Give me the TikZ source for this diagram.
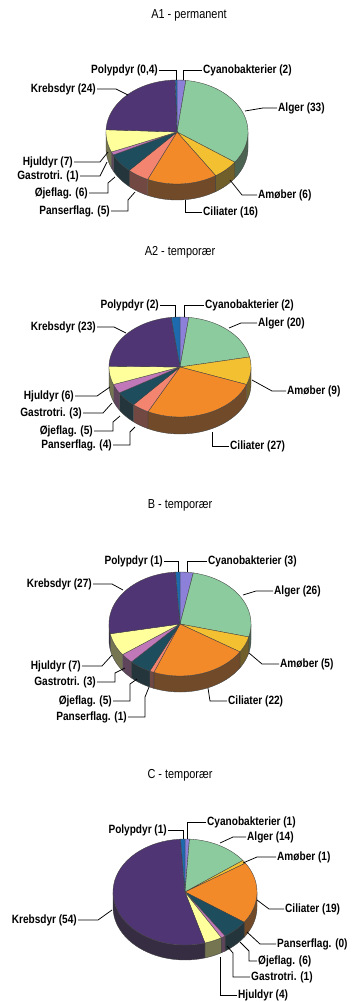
\documentclass[tikz,border=0pt]{standalone}
\usepackage{fontspec}
\setmainfont[FakeStretch=0.84]{Liberation Sans}
\definecolor{cCya}{HTML}{8C80D8}
\definecolor{cAlg}{HTML}{8CCB9E}
\definecolor{cAmo}{HTML}{F2C030}
\definecolor{cCil}{HTML}{F38A2A}
\definecolor{cPan}{HTML}{F28470}
\definecolor{cOje}{HTML}{1E4E5E}
\definecolor{cGas}{HTML}{C078B8}
\definecolor{cHju}{HTML}{FFFF9C}
\definecolor{cKre}{HTML}{4F3573}
\definecolor{cPol}{HTML}{1E6AAE}
\tikzset{
  lbl/.style={font=\bfseries\fontsize{12}{14}\selectfont, inner sep=1pt},
  ttl/.style={font=\fontsize{13}{15}\selectfont, inner sep=1pt},
  lead/.style={draw=black, line width=0.75pt},
  edge/.style={draw=black!75, line width=0.35pt}
}
\newcommand{\drawpie}[7]{%
  \def\pcx{#1}\def\pcy{#2}\def\prx{#3}\def\pry{#4}\def\pdp{#5}\def\ptot{#6}%
  \xdef\pcum{0}%
  \foreach \v/\c in {#7}{%
    \pgfmathsetmacro{\aA}{-90+360*(\pcum/\ptot)}%
    \pgfmathsetmacro{\aB}{-90+360*((\pcum+\v)/\ptot)}%
    \pgfmathsetmacro{\lo}{max(\aA,0)}%
    \pgfmathsetmacro{\hi}{min(\aB,180)}%
    \pgfmathtruncatemacro{\vis}{(\hi-\lo)>0.05 ? 1 : 0}%
    \ifnum\vis=1
      \filldraw[fill=\c!45!black!80!gray, edge]
        plot[variable=\t,domain=\lo:\hi,samples=30] ({\pcx+\prx*cos(\t)},{\pcy+\pry*sin(\t)})
        -- plot[variable=\t,domain=\hi:\lo,samples=30] ({\pcx+\prx*cos(\t)},{\pcy+\pdp+\pry*sin(\t)})
        -- cycle;
    \fi
    \pgfmathsetmacro{\pn}{\pcum+\v}%
    \xdef\pcum{\pn}%
  }%
  \xdef\pcum{0}%
  \foreach \v/\c in {#7}{%
    \pgfmathsetmacro{\aA}{-90+360*(\pcum/\ptot)}%
    \pgfmathsetmacro{\aB}{-90+360*((\pcum+\v)/\ptot)}%
    \filldraw[fill=\c, edge] (\pcx,\pcy)
      -- plot[variable=\t,domain=\aA:\aB,samples=40] ({\pcx+\prx*cos(\t)},{\pcy+\pry*sin(\t)})
      -- cycle;
    \pgfmathsetmacro{\pn}{\pcum+\v}%
    \xdef\pcum{\pn}%
  }%
}
\begin{document}
\begin{tikzpicture}[x=1pt,y=-1pt]
\useasboundingbox (0,0) rectangle (359,1002);
\fill[white] (0,0) rectangle (359,1002);

% ---------------- A1 ----------------
\node[ttl] (tA1) at (189,15) {A1 - permanent};
\drawpie{177}{132}{71}{52}{16}{100.4}{2/cCya,33/cAlg,6/cAmo,16/cCil,5/cPan,6/cOje,1/cGas,7/cHju,24/cKre,0.4/cPol}
\node[lbl, anchor=east] (a1pol) at (159,70) {Polypdyr (0,4)};
\node[lbl, anchor=west] (a1cya) at (202,70) {Cyanobakterier (2)};
\node[lbl, anchor=east] (a1kre) at (97,89) {Krebsdyr (24)};
\node[lbl, anchor=west] (a1alg) at (277,108) {Alger (33)};
\node[lbl, anchor=east] (a1hju) at (74,162) {Hjuldyr (7)};
\node[lbl, anchor=east] (a1gas) at (80,176) {Gastrotri. (1)};
\node[lbl, anchor=east] (a1oje) at (89,193) {Øjeflag. (6)};
\node[lbl, anchor=east] (a1pan) at (111,211) {Panserflag. (5)};
\node[lbl, anchor=west] (a1cil) at (202,212) {Ciliater (16)};
\node[lbl, anchor=west] (a1amo) at (257,195) {Amøber (6)};
\coordinate (pa1pol) at (176,80);
\coordinate (pa1cya) at (183,80);
\coordinate (pa1kre) at (128,95);
\coordinate (pa1alg) at (245,111);
\coordinate (pa1hju) at (108,152);
\coordinate (pa1gas) at (107,162);
\coordinate (pa1oje) at (115,177);
\coordinate (pa1pan) at (135,192);
\coordinate (pa1cil) at (185,200);
\coordinate (pa1amo) at (230,180);
\draw[lead] (a1pol.east) -| (pa1pol);
\draw[lead] (a1cya.west) -| (pa1cya);
\draw[lead] (a1kre.east) -- ++(19,0) -- (pa1kre);
\draw[lead] (a1alg.west) -- ++(-14,0) -- (pa1alg);
\draw[lead] (a1hju.east) -- ++(26,0) -- (pa1hju);
\draw[lead] (a1gas.east) -- ++(20,0) -- (pa1gas);
\draw[lead] (a1oje.east) -- ++(19,0) -- ++(0,-10) -- (pa1oje);
\draw[lead] (a1pan.east) -- ++(17,0) -- ++(0,-11) -- (pa1pan);
\draw[lead] (a1cil.west) -| (pa1cil);
\draw[lead] (a1amo.west) -- ++(-15,0) -- (pa1amo);

% ---------------- A2 ----------------
\node[ttl] (tA2) at (180,252) {A2 - temporær};
\drawpie{180}{367}{71}{50}{17}{101}{2/cCya,20/cAlg,9/cAmo,27/cCil,4/cPan,5/cOje,3/cGas,6/cHju,23/cKre,2/cPol}
\node[lbl, anchor=east] (a2pol) at (160,305) {Polypdyr (2)};
\node[lbl, anchor=west] (a2cya) at (204,305) {Cyanobakterier (2)};
\node[lbl, anchor=east] (a2kre) at (97,327) {Krebsdyr (23)};
\node[lbl, anchor=west] (a2alg) at (257,323) {Alger (20)};
\node[lbl, anchor=west] (a2amo) at (286,391) {Amøber (9)};
\node[lbl, anchor=west] (a2cil) at (229,446) {Ciliater (27)};
\node[lbl, anchor=east] (a2hju) at (75,396) {Hjuldyr (6)};
\node[lbl, anchor=east] (a2gas) at (83,413) {Gastrotri. (3)};
\node[lbl, anchor=east] (a2oje) at (94,431) {Øjeflag. (5)};
\node[lbl, anchor=east] (a2pan) at (113,445) {Panserflag. (4)};
\coordinate (pa2pol) at (175,317);
\coordinate (pa2cya) at (184,317);
\coordinate (pa2kre) at (126,333);
\coordinate (pa2alg) at (229,328);
\coordinate (pa2amo) at (252,380);
\coordinate (pa2cil) at (212,432);
\coordinate (pa2hju) at (110,387);
\coordinate (pa2gas) at (112,403);
\coordinate (pa2oje) at (120,416);
\coordinate (pa2pan) at (135,427);
\draw[lead] (a2pol.east) -| (pa2pol);
\draw[lead] (a2cya.west) -| (pa2cya);
\draw[lead] (a2kre.east) -- ++(17,0) -- (pa2kre);
\draw[lead] (a2alg.west) -- ++(-16,0) -- (pa2alg);
\draw[lead] (a2amo.west) -- ++(-14,0) -- (pa2amo);
\draw[lead] (a2cil.west) -| (pa2cil);
\draw[lead] (a2hju.east) -- ++(22,0) -- (pa2hju);
\draw[lead] (a2gas.east) -- ++(20,0) -- (pa2gas);
\draw[lead] (a2oje.east) -- ++(19,0) -- ++(0,-9) -- (pa2oje);
\draw[lead] (a2pan.east) -- ++(17,0) -- ++(0,-13) -- (pa2pan);

% ---------------- B ----------------
\node[ttl] (tB) at (180,505) {B - temporær};
\drawpie{180}{624}{71}{52}{16}{100}{3/cCya,26/cAlg,5/cAmo,22/cCil,1/cPan,5/cOje,3/cGas,7/cHju,27/cKre,1/cPol}
\node[lbl, anchor=east] (bpol) at (164,561) {Polypdyr (1)};
\node[lbl, anchor=west] (bcya) at (207,561) {Cyanobakterier (3)};
\node[lbl, anchor=east] (bkre) at (93,584) {Krebsdyr (27)};
\node[lbl, anchor=west] (balg) at (273,591) {Alger (26)};
\node[lbl, anchor=west] (bamo) at (279,664) {Amøber (5)};
\node[lbl, anchor=west] (bcil) at (227,701) {Ciliater (22)};
\node[lbl, anchor=east] (bhju) at (82,666) {Hjuldyr (7)};
\node[lbl, anchor=east] (bgas) at (97,682) {Gastrotri. (3)};
\node[lbl, anchor=east] (boje) at (113,701) {Øjeflag. (5)};
\node[lbl, anchor=east] (bpan) at (128,717) {Panserflag. (1)};
\coordinate (pbpol) at (178,572);
\coordinate (pbcya) at (187,572);
\coordinate (pbkre) at (123,590);
\coordinate (pbalg) at (243,595);
\coordinate (pbamo) at (249,653);
\coordinate (pbcil) at (208,688);
\coordinate (pbhju) at (112,655);
\coordinate (pbgas) at (125,668);
\coordinate (pboje) at (137,679);
\coordinate (pbpan) at (149,687);
\draw[lead] (bpol.east) -| (pbpol);
\draw[lead] (bcya.west) -| (pbcya);
\draw[lead] (bkre.east) -- ++(19,0) -- (pbkre);
\draw[lead] (balg.west) -- ++(-17,0) -- (pbalg);
\draw[lead] (bamo.west) -- ++(-17,0) -- (pbamo);
\draw[lead] (bcil.west) -- ++(-17,0) -- (pbcil);
\draw[lead] (bhju.east) -- ++(20,0) -- (pbhju);
\draw[lead] (bgas.east) -- ++(18,0) -- ++(0,-9) -- (pbgas);
\draw[lead] (boje.east) -- ++(17,0) -- ++(0,-17) -- (pboje);
\draw[lead] (bpan.east) -- ++(17,0) -- ++(0,-20) -- (pbpan);

% ---------------- C ----------------
\node[ttl] (tC) at (180,775) {C - temporær};
\drawpie{185}{892}{72}{53}{15}{101}{1/cCya,14/cAlg,1/cAmo,19/cCil,6/cOje,1/cGas,4/cHju,54/cKre,1/cPol}
\node[lbl, anchor=east] (cpol) at (168,830) {Polypdyr (1)};
\node[lbl, anchor=west] (ccya) at (206,822) {Cyanobakterier (1)};
\node[lbl, anchor=west] (calg) at (246,837) {Alger (14)};
\node[lbl, anchor=west] (camo) at (276,857) {Amøber (1)};
\node[lbl, anchor=west] (ccil) at (284,909) {Ciliater (19)};
\node[lbl, anchor=east] (ckre) at (78,920) {Krebsdyr (54)};
\node[lbl, anchor=west] (cpan) at (276,944) {Panserflag. (0)};
\node[lbl, anchor=west] (coje) at (257,961) {Øjeflag. (6)};
\node[lbl, anchor=west] (cgas) at (250,977) {Gastrotri. (1)};
\node[lbl, anchor=west] (chju) at (237,995) {Hjuldyr (4)};
\coordinate (pcpol) at (183,839);
\coordinate (pccya) at (187,839);
\coordinate (pcalg) at (220,843);
\coordinate (pcamo) at (243,863);
\coordinate (pccil) at (257,900);
\coordinate (pckre) at (112,910);
\coordinate (pcpan) at (247,932);
\coordinate (pcoje) at (240,942);
\coordinate (pcgas) at (227,946);
\coordinate (pchju) at (220,957);
\draw[lead] (cpol.east) -| (pcpol);
\draw[lead] (ccya.west) -| (pccya);
\draw[lead] (calg.west) -- ++(-13,0) -- (pcalg);
\draw[lead] (camo.west) -- ++(-19,0) -- (pcamo);
\draw[lead] (ccil.west) -- ++(-15,0) -- (pccil);
\draw[lead] (ckre.east) -- ++(20,0) -- (pckre);
\draw[lead] (cpan.west) -- ++(-16,0) -- (pcpan);
\draw[lead] (coje.west) -- ++(-8,0) -- ++(0,-10) -- (pcoje);
\draw[lead] (cgas.west) -- ++(-17,0) -- ++(0,-24) -- (pcgas);
\draw[lead] (chju.west) -| (pchju);
\end{tikzpicture}
\end{document}
